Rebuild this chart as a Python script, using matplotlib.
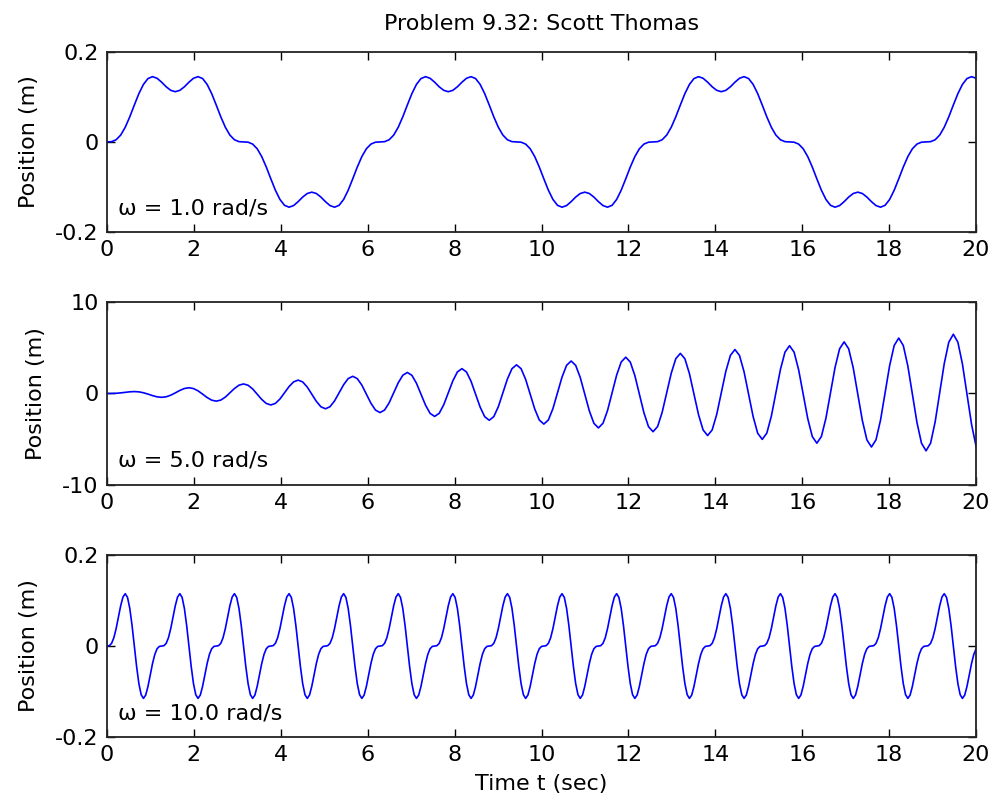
import numpy as np
import matplotlib
matplotlib.use("Agg")
import matplotlib.pyplot as plt

plt.rcParams['font.family'] = ['DejaVu Sans']
plt.rcParams['axes.unicode_minus'] = False

# sample times: step pi/30 s (top and middle), pi/60 s (bottom)
t = np.arange(192) * (np.pi / 30)
t_fine = np.arange(384) * (np.pi / 60)

# omega = 1.0 rad/s, position (m)
pos_w1 = [
    0.0000, 0.0006, 0.0048, 0.0152, 0.0326, 0.0558, 0.0820, 0.1073, 0.1278, 0.1408,
    0.1450, 0.1414, 0.1327, 0.1225, 0.1146, 0.1116, 0.1146, 0.1225, 0.1327, 0.1414,
    0.1450, 0.1408, 0.1278, 0.1073, 0.0820, 0.0558, 0.0326, 0.0152, 0.0048, 0.0006,
    0.0000, -0.0006, -0.0048, -0.0152, -0.0326, -0.0558, -0.0820, -0.1073, -0.1278, -0.1408,
    -0.1450, -0.1414, -0.1327, -0.1225, -0.1146, -0.1116, -0.1146, -0.1225, -0.1327, -0.1414,
    -0.1450, -0.1408, -0.1278, -0.1073, -0.0820, -0.0558, -0.0326, -0.0152, -0.0048, -0.0006,
    0.0000, 0.0006, 0.0048, 0.0152, 0.0326, 0.0558, 0.0820, 0.1073, 0.1278, 0.1408,
    0.1450, 0.1414, 0.1327, 0.1225, 0.1146, 0.1116, 0.1146, 0.1225, 0.1327, 0.1414,
    0.1450, 0.1408, 0.1278, 0.1073, 0.0820, 0.0558, 0.0326, 0.0152, 0.0048, 0.0006,
    0.0000, -0.0006, -0.0048, -0.0152, -0.0326, -0.0558, -0.0820, -0.1073, -0.1278, -0.1408,
    -0.1450, -0.1414, -0.1327, -0.1225, -0.1146, -0.1116, -0.1146, -0.1225, -0.1327, -0.1414,
    -0.1450, -0.1408, -0.1278, -0.1073, -0.0820, -0.0558, -0.0326, -0.0152, -0.0048, -0.0006,
    0.0000, 0.0006, 0.0048, 0.0152, 0.0326, 0.0558, 0.0820, 0.1073, 0.1278, 0.1408,
    0.1450, 0.1414, 0.1327, 0.1225, 0.1146, 0.1116, 0.1146, 0.1225, 0.1327, 0.1414,
    0.1450, 0.1408, 0.1278, 0.1073, 0.0820, 0.0558, 0.0326, 0.0152, 0.0048, 0.0006,
    0.0000, -0.0006, -0.0048, -0.0152, -0.0326, -0.0558, -0.0820, -0.1073, -0.1278, -0.1408,
    -0.1450, -0.1414, -0.1327, -0.1225, -0.1146, -0.1116, -0.1146, -0.1225, -0.1327, -0.1414,
    -0.1450, -0.1408, -0.1278, -0.1073, -0.0820, -0.0558, -0.0326, -0.0152, -0.0048, -0.0006,
    0.0000, 0.0006, 0.0048, 0.0152, 0.0326, 0.0558, 0.0820, 0.1073, 0.1278, 0.1408,
    0.1450, 0.1414,
]

# omega = 5.0 rad/s (resonance), middle panel
pos_w5 = [
    0.000, 0.003, 0.023, 0.067, 0.127, 0.184, 0.209, 0.178, 0.082, -0.067, -0.232, -0.365,
    -0.418, -0.359, -0.186, 0.067, 0.336, 0.546, 0.627, 0.540, 0.291, -0.067, -0.441, -0.727,
    -0.836, -0.721, -0.395, 0.067, 0.545, 0.908, 1.045, 0.902, 0.500, -0.067, -0.650, -1.089,
    -1.254, -1.082, -0.604, 0.067, 0.754, 1.270, 1.462, 1.263, 0.708, -0.067, -0.858, -1.450,
    -1.671, -1.444, -0.813, 0.067, 0.963, 1.631, 1.880, 1.625, 0.917, -0.067, -1.067, -1.812,
    -2.089, -1.806, -1.022, 0.067, 1.172, 1.993, 2.298, 1.987, 1.126, -0.067, -1.276, -2.174,
    -2.507, -2.168, -1.231, 0.067, 1.381, 2.355, 2.716, 2.349, 1.335, -0.067, -1.485, -2.536,
    -2.925, -2.530, -1.440, 0.067, 1.590, 2.717, 3.134, 2.711, 1.544, -0.067, -1.694, -2.898,
    -3.343, -2.892, -1.649, 0.067, 1.799, 3.079, 3.552, 3.073, 1.753, -0.067, -1.903, -3.260,
    -3.761, -3.254, -1.858, 0.067, 2.008, 3.441, 3.969, 3.434, 1.962, -0.067, -2.112, -3.622,
    -4.178, -3.615, -2.066, 0.067, 2.216, 3.803, 4.387, 3.796, 2.171, -0.067, -2.321, -3.983,
    -4.596, -3.977, -2.275, 0.067, 2.425, 4.164, 4.805, 4.158, 2.380, -0.067, -2.530, -4.345,
    -5.014, -4.339, -2.484, 0.067, 2.634, 4.526, 5.223, 4.520, 2.589, -0.067, -2.739, -4.707,
    -5.432, -4.701, -2.693, 0.067, 2.843, 4.888, 5.641, 4.882, 2.798, -0.067, -2.948, -5.069,
    -5.850, -5.063, -2.902, 0.067, 3.052, 5.250, 6.059, 5.244, 3.007, -0.067, -3.157, -5.431,
    -6.268, -5.425, -3.111, 0.067, 3.261, 5.612, 6.477, 5.606, 3.216, -0.067, -3.365, -5.793,
]

# omega = 10.0 rad/s, bottom panel (one row = one period)
pos_w10 = [
    0.0000, 0.0008, 0.0059, 0.0183, 0.0384, 0.0634, 0.0886, 0.1077, 0.1151, 0.1069, 0.0827, 0.0451,
    0.0000, -0.0451, -0.0827, -0.1069, -0.1151, -0.1077, -0.0886, -0.0634, -0.0384, -0.0183, -0.0059, -0.0008,
    0.0000, 0.0008, 0.0059, 0.0183, 0.0384, 0.0634, 0.0886, 0.1077, 0.1151, 0.1069, 0.0827, 0.0451,
    0.0000, -0.0451, -0.0827, -0.1069, -0.1151, -0.1077, -0.0886, -0.0634, -0.0384, -0.0183, -0.0059, -0.0008,
    0.0000, 0.0008, 0.0059, 0.0183, 0.0384, 0.0634, 0.0886, 0.1077, 0.1151, 0.1069, 0.0827, 0.0451,
    0.0000, -0.0451, -0.0827, -0.1069, -0.1151, -0.1077, -0.0886, -0.0634, -0.0384, -0.0183, -0.0059, -0.0008,
    0.0000, 0.0008, 0.0059, 0.0183, 0.0384, 0.0634, 0.0886, 0.1077, 0.1151, 0.1069, 0.0827, 0.0451,
    0.0000, -0.0451, -0.0827, -0.1069, -0.1151, -0.1077, -0.0886, -0.0634, -0.0384, -0.0183, -0.0059, -0.0008,
    0.0000, 0.0008, 0.0059, 0.0183, 0.0384, 0.0634, 0.0886, 0.1077, 0.1151, 0.1069, 0.0827, 0.0451,
    0.0000, -0.0451, -0.0827, -0.1069, -0.1151, -0.1077, -0.0886, -0.0634, -0.0384, -0.0183, -0.0059, -0.0008,
    0.0000, 0.0008, 0.0059, 0.0183, 0.0384, 0.0634, 0.0886, 0.1077, 0.1151, 0.1069, 0.0827, 0.0451,
    0.0000, -0.0451, -0.0827, -0.1069, -0.1151, -0.1077, -0.0886, -0.0634, -0.0384, -0.0183, -0.0059, -0.0008,
    0.0000, 0.0008, 0.0059, 0.0183, 0.0384, 0.0634, 0.0886, 0.1077, 0.1151, 0.1069, 0.0827, 0.0451,
    0.0000, -0.0451, -0.0827, -0.1069, -0.1151, -0.1077, -0.0886, -0.0634, -0.0384, -0.0183, -0.0059, -0.0008,
    0.0000, 0.0008, 0.0059, 0.0183, 0.0384, 0.0634, 0.0886, 0.1077, 0.1151, 0.1069, 0.0827, 0.0451,
    0.0000, -0.0451, -0.0827, -0.1069, -0.1151, -0.1077, -0.0886, -0.0634, -0.0384, -0.0183, -0.0059, -0.0008,
    0.0000, 0.0008, 0.0059, 0.0183, 0.0384, 0.0634, 0.0886, 0.1077, 0.1151, 0.1069, 0.0827, 0.0451,
    0.0000, -0.0451, -0.0827, -0.1069, -0.1151, -0.1077, -0.0886, -0.0634, -0.0384, -0.0183, -0.0059, -0.0008,
    0.0000, 0.0008, 0.0059, 0.0183, 0.0384, 0.0634, 0.0886, 0.1077, 0.1151, 0.1069, 0.0827, 0.0451,
    0.0000, -0.0451, -0.0827, -0.1069, -0.1151, -0.1077, -0.0886, -0.0634, -0.0384, -0.0183, -0.0059, -0.0008,
    0.0000, 0.0008, 0.0059, 0.0183, 0.0384, 0.0634, 0.0886, 0.1077, 0.1151, 0.1069, 0.0827, 0.0451,
    0.0000, -0.0451, -0.0827, -0.1069, -0.1151, -0.1077, -0.0886, -0.0634, -0.0384, -0.0183, -0.0059, -0.0008,
    0.0000, 0.0008, 0.0059, 0.0183, 0.0384, 0.0634, 0.0886, 0.1077, 0.1151, 0.1069, 0.0827, 0.0451,
    0.0000, -0.0451, -0.0827, -0.1069, -0.1151, -0.1077, -0.0886, -0.0634, -0.0384, -0.0183, -0.0059, -0.0008,
    0.0000, 0.0008, 0.0059, 0.0183, 0.0384, 0.0634, 0.0886, 0.1077, 0.1151, 0.1069, 0.0827, 0.0451,
    0.0000, -0.0451, -0.0827, -0.1069, -0.1151, -0.1077, -0.0886, -0.0634, -0.0384, -0.0183, -0.0059, -0.0008,
    0.0000, 0.0008, 0.0059, 0.0183, 0.0384, 0.0634, 0.0886, 0.1077, 0.1151, 0.1069, 0.0827, 0.0451,
    0.0000, -0.0451, -0.0827, -0.1069, -0.1151, -0.1077, -0.0886, -0.0634, -0.0384, -0.0183, -0.0059, -0.0008,
    0.0000, 0.0008, 0.0059, 0.0183, 0.0384, 0.0634, 0.0886, 0.1077, 0.1151, 0.1069, 0.0827, 0.0451,
    0.0000, -0.0451, -0.0827, -0.1069, -0.1151, -0.1077, -0.0886, -0.0634, -0.0384, -0.0183, -0.0059, -0.0008,
    0.0000, 0.0008, 0.0059, 0.0183, 0.0384, 0.0634, 0.0886, 0.1077, 0.1151, 0.1069, 0.0827, 0.0451,
    0.0000, -0.0451, -0.0827, -0.1069, -0.1151, -0.1077, -0.0886, -0.0634, -0.0384, -0.0183, -0.0059, -0.0008,
]

times = [t, t, t_fine]
series = [pos_w1, pos_w5, pos_w10]
labels = ["\u03c9 = 1.0 rad/s", "\u03c9 = 5.0 rad/s", "\u03c9 = 10.0 rad/s"]
yticks = [[-0.2, 0, 0.2], [-10, 0, 10], [-0.2, 0, 0.2]]
yticklabels = [["-0.2", "0", "0.2"], ["-10", "0", "10"], ["-0.2", "0", "0.2"]]
xticks = list(range(0, 21, 2))

fig = plt.figure(figsize=(9.92, 8.11), dpi=100)
positions = [
    [0.1079, 0.714, 0.876, 0.222],
    [0.1079, 0.402, 0.876, 0.2256],
    [0.1079, 0.0912, 0.876, 0.2244],
]
label_y = [0.128, 0.135, 0.132]

axes = []
for i in range(3):
    ax = fig.add_axes(positions[i])
    ax.plot(times[i], series[i], color='#0000ff', lw=1.2)
    ax.set_xlim(0, 20)
    ax.set_ylim(yticks[i][0], yticks[i][-1])
    ax.set_xticks(xticks)
    ax.set_xticklabels([str(v) for v in xticks])
    ax.set_yticks(yticks[i])
    ax.set_yticklabels(yticklabels[i])
    ax.tick_params(direction='in', length=6, width=1, top=True, right=True,
                   labelsize=16, pad=6)
    for s in ax.spines.values():
        s.set_linewidth(1.3)
        s.set_color('#222222')
    ax.set_ylabel("Position (m)", fontsize=16, labelpad=12)
    ax.text(0.0127, label_y[i], labels[i], transform=ax.transAxes,
            fontsize=16, ha='left', va='center')
    axes.append(ax)

axes[0].set_title("Problem 9.32: Scott Thomas", fontsize=16, pad=16)
axes[2].set_xlabel("Time t (sec)", fontsize=16, labelpad=6)

fig.savefig("out.png", dpi=100, facecolor='white')
